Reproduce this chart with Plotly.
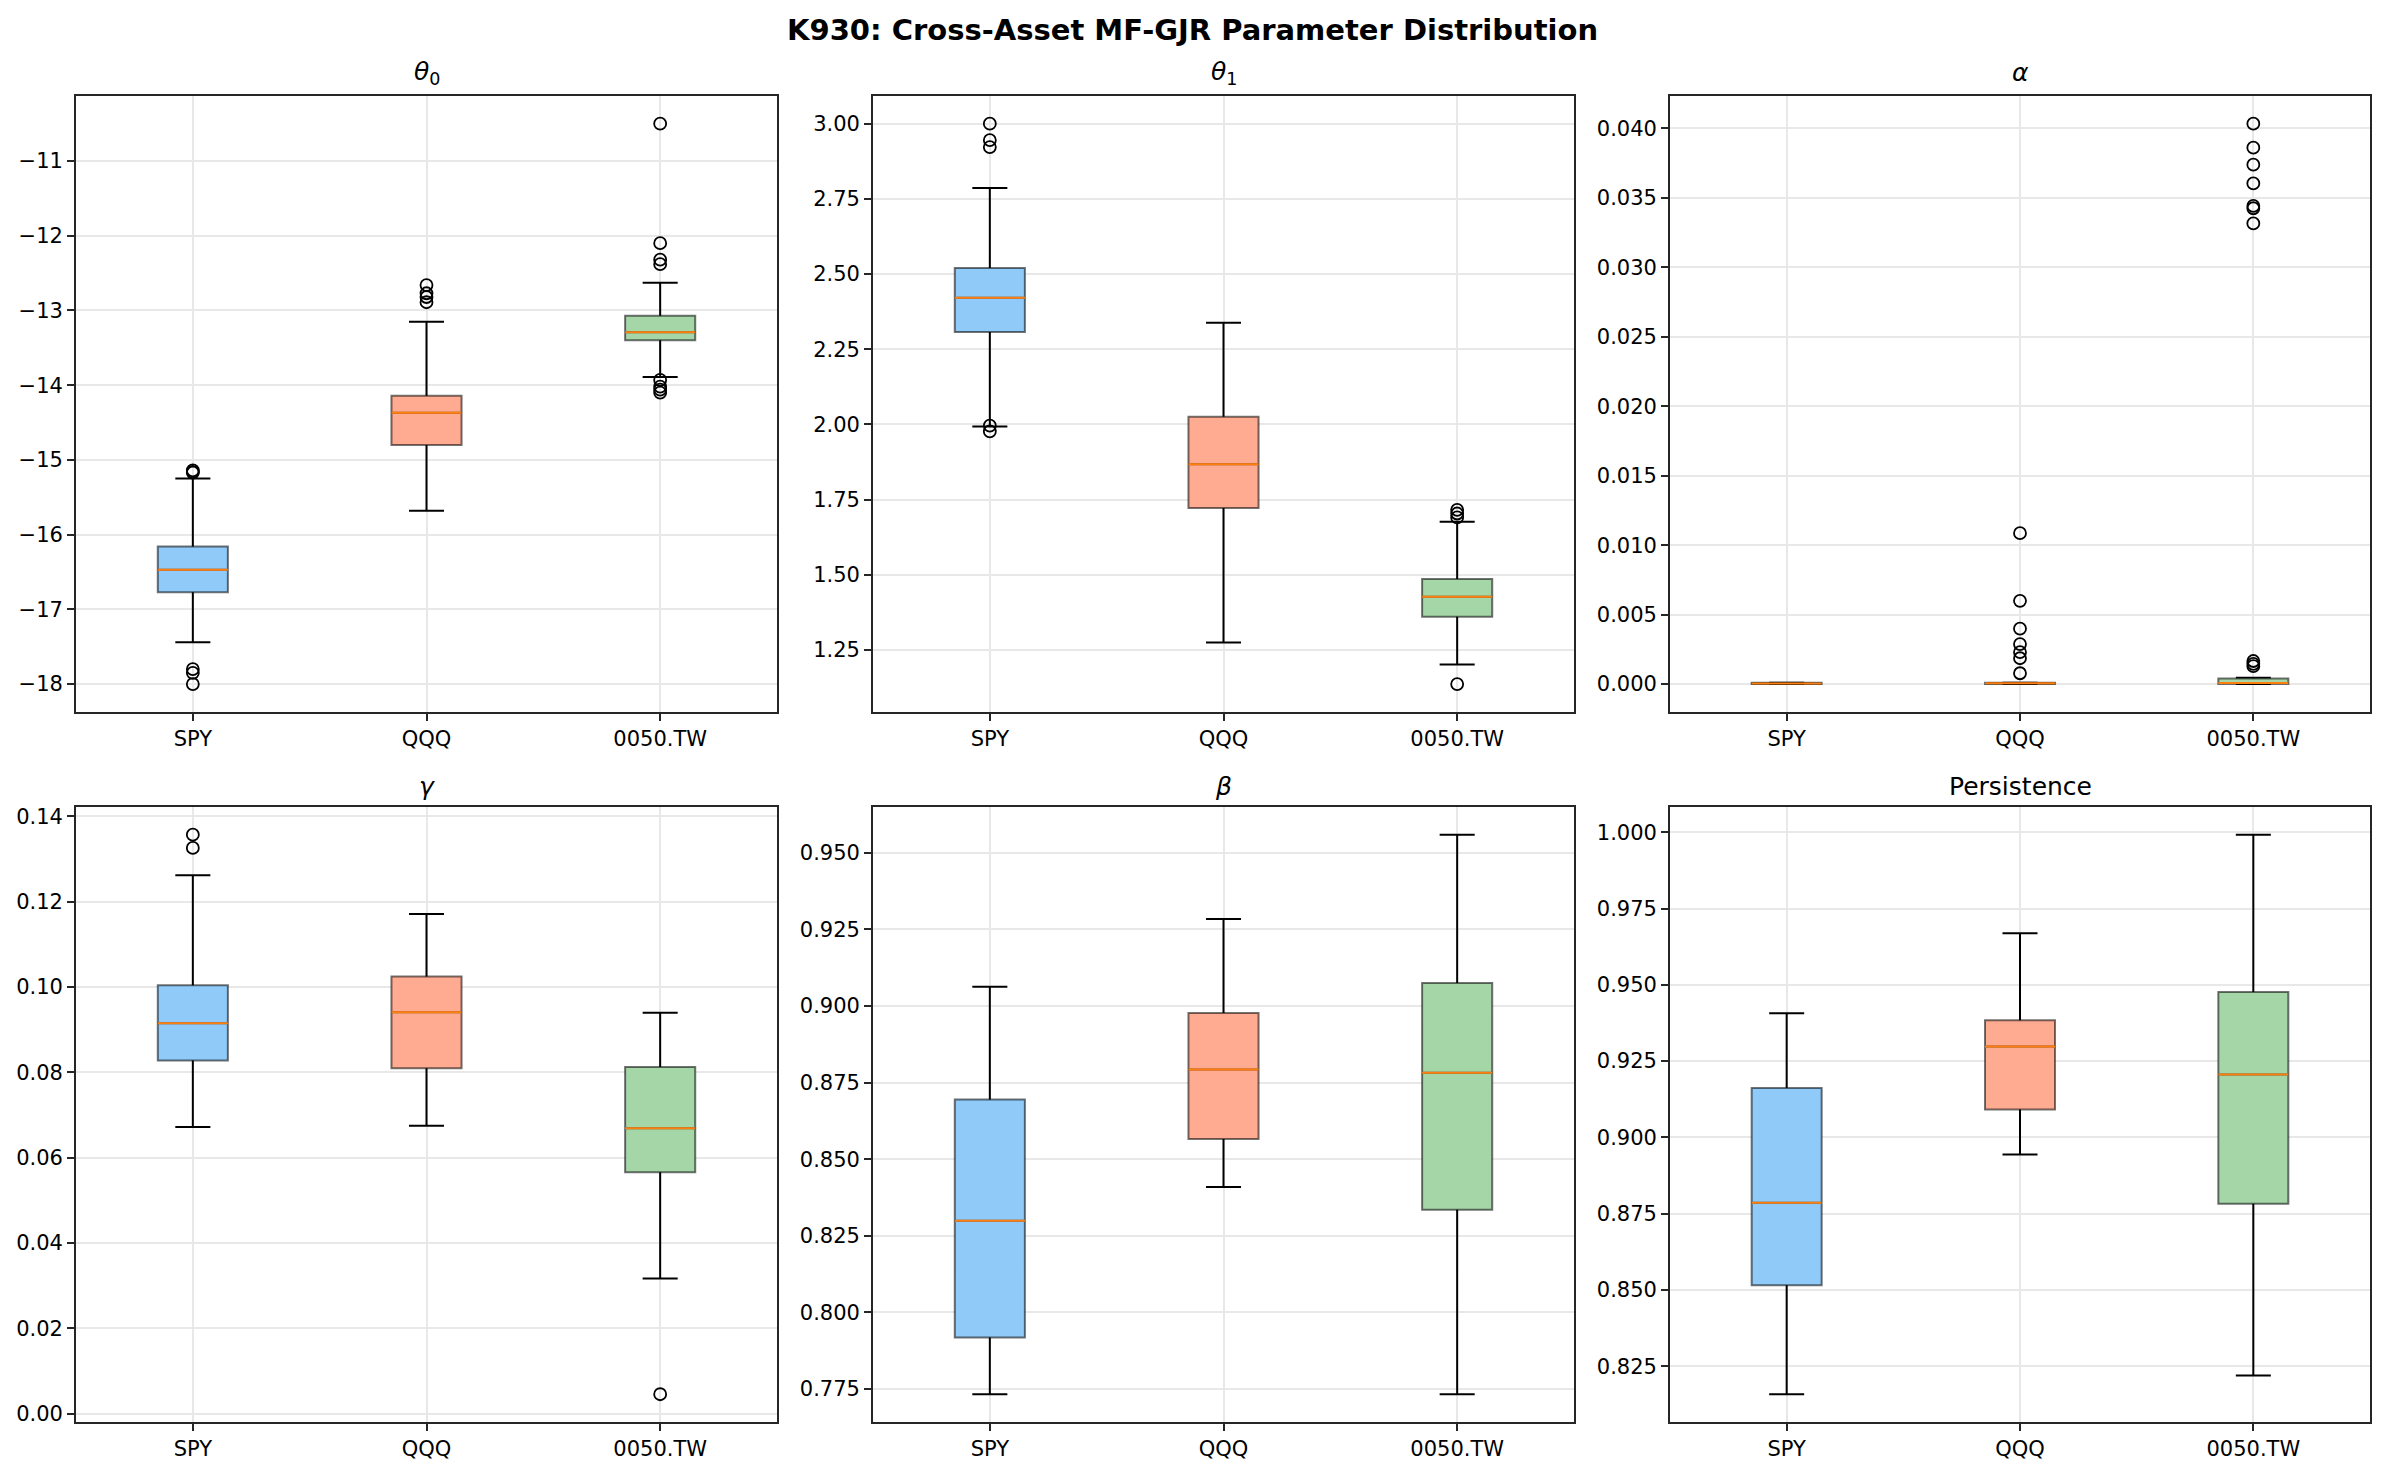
import plotly.graph_objects as go

# ---------------- data ----------------
assets = ["SPY", "QQQ", "0050.TW"]
titles = ["<i>θ</i><sub>0</sub>", "<i>θ</i><sub>1</sub>", "<i>α</i>",
          "<i>γ</i>", "<i>β</i>", "Persistence"]

theta0_q1 = [-16.77, -14.80, -13.40]
theta0_med = [-16.47, -14.37, -13.29]
theta0_q3 = [-16.16, -14.14, -13.07]
theta0_lo = [-17.44, -15.68, -13.89]
theta0_hi = [-15.25, -13.15, -12.63]
theta0_out = [[-15.14, -15.16, -15.17, -17.80, -17.85, -18.00],
              [-12.66, -12.77, -12.82, -12.89],
              [-10.50, -12.10, -12.32, -12.38, -13.93, -14.02, -14.06, -14.10]]

theta1_q1 = [2.307, 1.722, 1.361]
theta1_med = [2.421, 1.868, 1.427]
theta1_q3 = [2.520, 2.026, 1.486]
theta1_lo = [1.993, 1.275, 1.202]
theta1_hi = [2.786, 2.338, 1.677]
theta1_out = [[3.000, 2.945, 2.922, 1.996, 1.977],
              [],
              [1.716, 1.704, 1.691, 1.137]]

alpha_q1 = [0.0, 0.0, 0.0]
alpha_med = [0.00005, 0.00006, 0.00007]
alpha_q3 = [0.0001, 0.0001, 0.00041]
alpha_lo = [0.0, 0.0, 0.0]
alpha_hi = [0.0001, 0.0001, 0.00045]
alpha_out = [[],
             [0.01086, 0.00599, 0.00399, 0.00288, 0.00230, 0.00186, 0.00078],
             [0.04034, 0.03861, 0.03739, 0.03604, 0.03442, 0.03425, 0.03316,
              0.00166, 0.00146, 0.00129]]

gamma_q1 = [0.0828, 0.0810, 0.0566]
gamma_med = [0.0915, 0.0941, 0.0669]
gamma_q3 = [0.1004, 0.1025, 0.0813]
gamma_lo = [0.0672, 0.0675, 0.0317]
gamma_hi = [0.1262, 0.1171, 0.0940]
gamma_out = [[0.1357, 0.1326], [], [0.0046]]

beta_q1 = [0.7918, 0.8566, 0.8335]
beta_med = [0.8299, 0.8793, 0.8782]
beta_q3 = [0.8695, 0.8977, 0.9075]
beta_lo = [0.7733, 0.8409, 0.7733]
beta_hi = [0.9063, 0.9284, 0.9559]
beta_out = [[], [], []]

pers_q1 = [0.8515, 0.9091, 0.8782]
pers_med = [0.8786, 0.9298, 0.9206]
pers_q3 = [0.9162, 0.9384, 0.9476]
pers_lo = [0.8158, 0.8944, 0.8219]
pers_hi = [0.9407, 0.9669, 0.9992]
pers_out = [[], [], []]

panels = [
    (theta0_q1, theta0_med, theta0_q3, theta0_lo, theta0_hi, theta0_out, 1, ".0f"),
    (theta1_q1, theta1_med, theta1_q3, theta1_lo, theta1_hi, theta1_out, 0.25, ".2f"),
    (alpha_q1, alpha_med, alpha_q3, alpha_lo, alpha_hi, alpha_out, 0.005, ".3f"),
    (gamma_q1, gamma_med, gamma_q3, gamma_lo, gamma_hi, gamma_out, 0.02, ".2f"),
    (beta_q1, beta_med, beta_q3, beta_lo, beta_hi, beta_out, 0.025, ".3f"),
    (pers_q1, pers_med, pers_q3, pers_lo, pers_hi, pers_out, 0.025, ".3f"),
]

face_colors = ["#90CAF9", "#FFAB91", "#A5D6A7"]
edge_color = "rgba(0,0,0,0.55)"
median_color = "#FF7F0E"

# ---------------- layout geometry ----------------
W, H = 2385, 1476
col_px = [(76, 777), (873, 1574), (1670, 2370)]
row_px = [(94, 713), (808, 1426)]
title_y_px = [71, 788]

FONT = "DejaVu Sans"
positions = [1, 2, 3]
BOX_W = 0.3

fig = go.Figure()
layout = dict(
    width=W, height=H,
    margin=dict(l=0, r=0, t=0, b=0),
    paper_bgcolor="white", plot_bgcolor="white",
    showlegend=False, boxmode="overlay",
    font=dict(family=FONT, size=21, color="black"),
)
annotations = []

for i, (q1, med, q3, lo, hi, out, dt, fmt) in enumerate(panels):
    r, c = divmod(i, 3)
    n = i + 1
    xa = "x" if n == 1 else f"x{n}"
    ya = "y" if n == 1 else f"y{n}"
    x0, x1 = col_px[c]
    y0, y1 = row_px[r]

    # whiskers + caps (collapsed box at median; hidden under the filled box)
    fig.add_trace(go.Box(
        x=positions, q1=med, median=med, q3=med, lowerfence=lo, upperfence=hi,
        width=BOX_W, whiskerwidth=0.5, boxpoints=False,
        line=dict(color="black", width=2), fillcolor="rgba(0,0,0,0)",
        hoverinfo="skip", xaxis=xa, yaxis=ya))
    # filled boxes
    for k in range(3):
        fig.add_trace(go.Box(
            x=[positions[k]], q1=[q1[k]], median=[med[k]], q3=[q3[k]],
            lowerfence=[q1[k]], upperfence=[q3[k]],
            width=BOX_W, whiskerwidth=0, boxpoints=False,
            line=dict(color=edge_color, width=2), fillcolor=face_colors[k],
            hoverinfo="skip", xaxis=xa, yaxis=ya))
    # median lines
    fig.add_trace(go.Box(
        x=positions, q1=med, median=med, q3=med, lowerfence=med, upperfence=med,
        width=BOX_W, whiskerwidth=0, boxpoints=False,
        line=dict(color=median_color, width=2), fillcolor="rgba(0,0,0,0)",
        hoverinfo="skip", xaxis=xa, yaxis=ya))
    # outliers
    ox, oy = [], []
    for k in range(3):
        ox += [positions[k]] * len(out[k])
        oy += out[k]
    fig.add_trace(go.Scatter(
        x=ox, y=oy, mode="markers",
        marker=dict(symbol="circle-open", size=12, color="black",
                    line=dict(width=1.8, color="black")),
        hoverinfo="skip", xaxis=xa, yaxis=ya))

    allv = lo + hi + q1 + q3 + [v for o in out for v in o]
    vmin, vmax = min(allv), max(allv)
    pad = 0.05 * (vmax - vmin)

    axis_common = dict(
        showline=True, mirror=True, linecolor="#262626", linewidth=1.7,
        ticks="outside", ticklen=7, tickwidth=1.7, tickcolor="#262626",
        showgrid=True, gridcolor="#e8e8e8", gridwidth=1.7, zeroline=False,
        tickfont=dict(family=FONT, size=21, color="black"),
    )
    layout["xaxis" if n == 1 else f"xaxis{n}"] = dict(
        axis_common,
        domain=[x0 / W, x1 / W], anchor=ya,
        range=[0.5, 3.5], tickmode="array", tickvals=positions, ticktext=assets,
    )
    layout["yaxis" if n == 1 else f"yaxis{n}"] = dict(
        axis_common,
        domain=[1 - y1 / H, 1 - y0 / H], anchor=xa,
        range=[vmin - pad, vmax + pad], tick0=0, dtick=dt, tickformat=fmt,
    )
    annotations.append(dict(
        text=titles[i], xref="paper", yref="paper",
        x=(x0 + x1) / 2 / W, y=1 - title_y_px[r] / H,
        xanchor="center", yanchor="middle", showarrow=False,
        font=dict(family=FONT, size=25, color="black")))

annotations.append(dict(
    text="<b>K930: Cross-Asset MF-GJR Parameter Distribution</b>",
    xref="paper", yref="paper", x=0.5, y=1 - 28 / H,
    xanchor="center", yanchor="middle", showarrow=False,
    font=dict(family=FONT, size=29, color="black")))

layout["annotations"] = annotations
fig.update_layout(**layout)
fig.write_html("out.html")
